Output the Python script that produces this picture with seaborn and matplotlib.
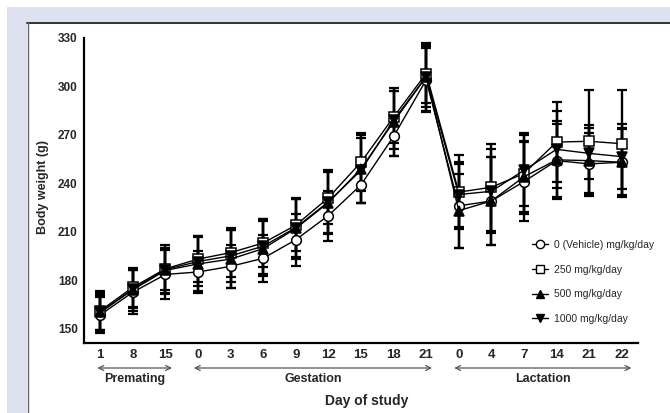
import numpy as np
import pandas as pd
import matplotlib
matplotlib.use("Agg")
import matplotlib.pyplot as plt
import seaborn as sns
from matplotlib.lines import Line2D
from matplotlib.patches import Rectangle

# ---------------- data ----------------
x_labels = ["1", "8", "15", "0", "3", "6", "9", "12", "15", "18", "21",
            "0", "4", "7", "14", "21", "22"]

series_names = ["0 (Vehicle) mg/kg/day", "250 mg/kg/day", "500 mg/kg/day", "1000 mg/kg/day"]

mean_vehicle = [158.5, 172.5, 183.5, 185.0, 188.5, 193.5, 205.0, 220.0, 239.0, 269.0, 304.0,
                226.0, 229.0, 241.0, 254.0, 252.0, 253.0]
mean_250 = [161.0, 175.5, 187.0, 193.0, 197.0, 203.0, 214.0, 231.0, 253.0, 281.0, 308.0,
            234.5, 237.5, 246.0, 265.5, 266.0, 264.5]
mean_500 = [160.0, 174.0, 186.0, 190.0, 193.0, 199.5, 212.0, 228.0, 249.0, 278.0, 306.0,
            223.0, 229.0, 244.0, 254.5, 254.0, 253.0]
mean_1000 = [160.0, 174.5, 186.5, 191.5, 195.0, 201.0, 212.5, 228.5, 248.0, 279.0, 306.0,
             233.0, 235.0, 248.0, 261.0, 258.5, 256.5]

sd_vehicle = [11.0, 13.5, 15.0, 13.0, 13.5, 14.5, 16.0, 15.5, 11.0, 12.0, 20.0,
              26.0, 27.5, 24.5, 22.5, 19.0, 20.5]
sd_250 = [12.0, 12.0, 13.0, 14.0, 15.0, 15.0, 16.0, 16.5, 18.0, 16.0, 18.0,
          23.0, 27.0, 25.0, 25.0, 32.0, 33.0]
sd_500 = [12.0, 13.0, 14.0, 17.0, 18.0, 17.0, 19.0, 19.0, 21.0, 21.0, 21.0,
          23.0, 27.5, 22.0, 24.0, 22.0, 21.0]
sd_1000 = [11.0, 12.0, 15.0, 15.0, 16.0, 17.0, 18.0, 20.0, 20.0, 18.0, 19.0,
           20.0, 26.0, 22.0, 24.0, 16.0, 20.0]

y_ticks = [150, 180, 210, 240, 270, 300, 330]
phases = ["Premating", "Gestation", "Lactation"]

# ---------------- figure ----------------
W, H = 670, 413
sns.set_style("white")
plt.rcParams["font.family"] = ["Liberation Sans", "DejaVu Sans"]

fig = plt.figure(figsize=(W / 100, H / 100), dpi=100)
fig.patch.set_facecolor("white")

lav = "#dde1ef"
# lavender frame bands
fig.patches.append(Rectangle((7 / W, 1 - 22 / H), 1, 15 / H, transform=fig.transFigure,
                             facecolor=lav, edgecolor="none", zorder=0))
fig.patches.append(Rectangle((7 / W, 0), 20 / W, 1 - 7 / H, transform=fig.transFigure,
                             facecolor=lav, edgecolor="none", zorder=0))
fig.lines.append(Line2D([27 / W, 1], [1 - 22.5 / H, 1 - 22.5 / H], transform=fig.transFigure,
                        color="#222222", lw=1.3))
fig.lines.append(Line2D([27.5 / W, 27.5 / W], [0, 1 - 22.5 / H], transform=fig.transFigure,
                        color="#666666", lw=1.0))

ax = fig.add_axes([84 / W, 1 - 343 / H, (638 - 84) / W, (343 - 38) / H])
ax.set_facecolor("white")

pos = np.arange(len(x_labels))
means = [mean_vehicle, mean_250, mean_500, mean_1000]
sds = [sd_vehicle, sd_250, sd_500, sd_1000]
markers = ["o", "s", "^", "v"]
faces = ["white", "white", "black", "black"]
msizes = [7, 6.5, 6.5, 6.5]

for name, m, s, mk, fc, ms in zip(series_names, means, sds, markers, faces, msizes):
    ax.errorbar(pos, m, yerr=s, fmt="none", ecolor="black", elinewidth=1.7,
                capsize=3.8, capthick=1.6, zorder=2)
for name, m, s, mk, fc, ms in zip(series_names, means, sds, markers, faces, msizes):
    df = pd.DataFrame({"pos": pos, "w": m})
    sns.lineplot(data=df, x="pos", y="w", ax=ax, color="black", lw=1.0,
                 marker=mk, markersize=ms, markerfacecolor=fc, markeredgecolor="black",
                 markeredgewidth=1.1, legend=False, zorder=3)

ax.set_xlim(-0.5, 16.5)
ax.set_ylim(141, 330)
ax.set_xticks(pos)
ax.set_xticklabels(x_labels, fontsize=9.5, fontweight="bold")
ax.set_yticks(y_ticks)
ax.set_yticklabels([str(t) for t in y_ticks], fontsize=8.5, fontweight="bold")
ax.tick_params(axis="both", direction="out", length=3, width=1.2, color="black", pad=1.5)
for side in ["top", "right"]:
    ax.spines[side].set_visible(False)
for side in ["left", "bottom"]:
    ax.spines[side].set_color("black")
    ax.spines[side].set_linewidth(1.6)

ax.set_ylabel("Body weight (g)", fontsize=9, fontweight="bold")
ax.yaxis.set_label_coords(-0.063, 0.51)
ax.set_xlabel("Day of study", fontsize=10, fontweight="bold", va="center")
ax.xaxis.set_label_coords(0.511, -0.19)

# phase arrows
arrow_spans = [(-0.09, 2.2), (2.87, 10.18), (10.86, 16.3)]
arrow_y = 1 - 368 / H
label_y = 1 - 379 / H
for ph, (a, b) in zip(phases, arrow_spans):
    ax.annotate("", xy=(b, arrow_y), xytext=(a, arrow_y),
                xycoords=("data", "figure fraction"), textcoords=("data", "figure fraction"),
                arrowprops=dict(arrowstyle="<->", color="#555555", lw=0.9,
                                shrinkA=0, shrinkB=0, mutation_scale=9),
                annotation_clip=False)
    ax.annotate(ph, xy=((a + b) / 2, label_y), xycoords=("data", "figure fraction"),
                ha="center", va="center", fontsize=9, fontweight="bold",
                annotation_clip=False)

handles = [Line2D([0], [0], color="black", lw=1.0, marker=mk, markersize=6,
                  markerfacecolor=fc, markeredgecolor="black", markeredgewidth=1.0)
           for mk, fc in zip(markers, faces)]
leg = ax.legend(handles, series_names, loc="upper left",
                bbox_to_anchor=(532 / W, 1 - 240 / H), bbox_transform=fig.transFigure,
                frameon=False, fontsize=7.5, handlelength=1.5, handletextpad=0.65,
                labelspacing=1.4, borderaxespad=0, borderpad=0)

fig.savefig("out.png", dpi=100)
